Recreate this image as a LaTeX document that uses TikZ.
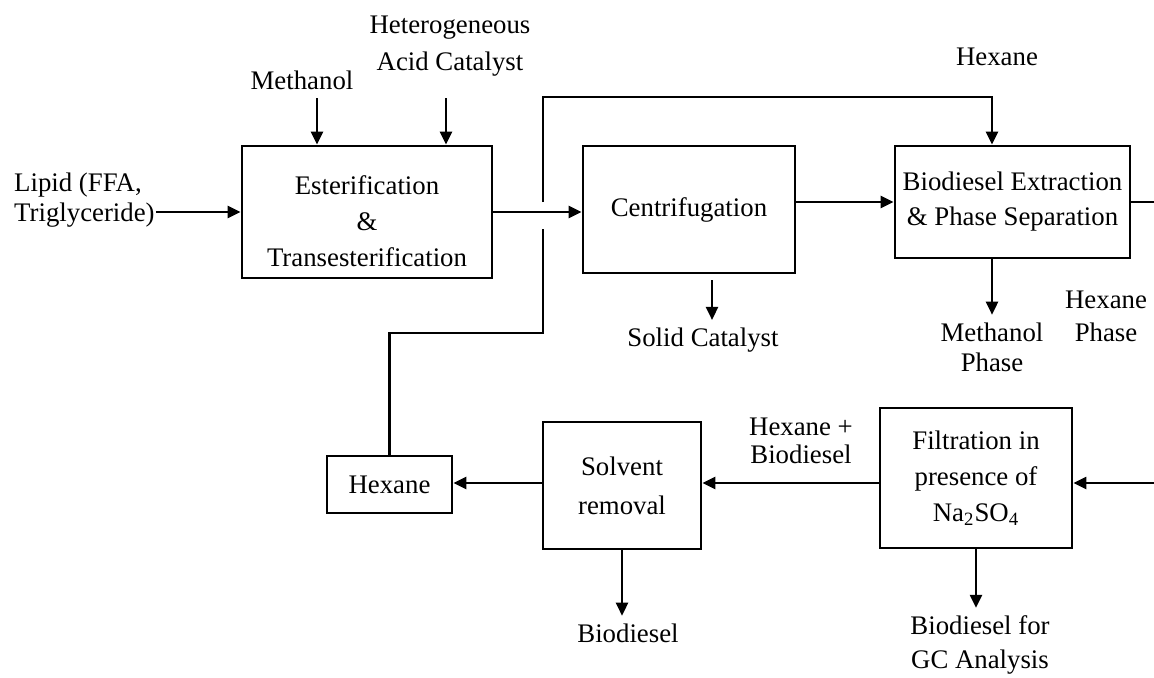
\documentclass[tikz,border=0pt]{standalone}
\usepackage{fontspec}
\setmainfont{Liberation Serif}
\usepackage{tikz}
\usetikzlibrary{arrows.meta}

\begin{document}
\begin{tikzpicture}[x=0.5pt, y=-0.5pt, line width=1.2pt,
    box/.style={draw, line width=1.4pt, align=center, inner sep=2pt, font=\fontsize{13.4}{18}\selectfont},
    lbl/.style={align=center, font=\fontsize{13.4}{15}\selectfont},
    flow/.style={-{Triangle[length=6.5pt,width=6pt]}}]
      \useasboundingbox (0,0) rectangle (1154,677);

      %process boxes
      \node[box, minimum width=125pt, minimum height=66pt, text height=55pt] (est) at (367,212) {Esterification\\\&\\Transesterification};
      \node[box, minimum width=106pt, minimum height=63.5pt] (cen) at (689,209.5) {Centrifugation};
      \node[box, minimum width=117.5pt, minimum height=56pt, font=\fontsize{13.4}{17.5}\selectfont] (bex) at (1012.5,202) {Biodiesel Extraction\\\& Phase Separation};
      \node[box, minimum width=96pt, minimum height=70pt] (fil) at (976,478) {Filtration in\\presence of\\Na\textsubscript{2}SO\textsubscript{4}};
      \node[box, minimum width=79pt, minimum height=63.5pt, font=\fontsize{13.4}{19.5}\selectfont] (sol) at (622,485.5) {Solvent\\removal};
      \node[box, minimum width=62.5pt, minimum height=28.5pt] (hex) at (389.5,484.5) {Hexane};

      %streams
      \node[lbl, align=left, anchor=west, inner sep=0pt] (lip) at (13,200) {Lipid (FFA,\\Triglyceride)};
      \node[lbl] (meth) at (302,80) {Methanol};
      \node[lbl, font=\fontsize{13.4}{18.5}\selectfont] (cat) at (450,46) {Heterogeneous\\Acid Catalyst};
      \node[lbl] (hxin) at (997,57) {Hexane};
      \node[lbl] (scat) at (703,340) {Solid Catalyst};
      \node[lbl] (mph) at (992,347) {Methanol\\Phase};
      \node[lbl, font=\fontsize{13.4}{16.5}\selectfont] (hph) at (1106,316) {Hexane\\Phase};
      \node[lbl, font=\fontsize{13.4}{14}\selectfont] (hb) at (801,441) {Hexane +\\Biodiesel};
      \node[lbl] (bio) at (628,633) {Biodiesel};
      \node[lbl, font=\fontsize{13.4}{17}\selectfont] (gc) at (980,645) {Biodiesel for\\GC Analysis};

      \coordinate (m0) at (317,98);
      \coordinate (c0) at (446,98);
      \coordinate (s0) at (712,280);
      \coordinate (r1) at (543,333);
      \coordinate (r2) at (992,97);
      \coordinate (e1) at (1154,204);
      \coordinate (e2) at (1154,483);

      \draw[flow] (lip.east |- est.west) -- (est.west);
      \draw[flow] (m0) -- (m0 |- est.north);
      \draw[flow] (c0) -- (c0 |- est.north);
      \draw[flow] (est.east) -- (est.east -| cen.west);
      \draw[flow] (cen.east |- bex.west) -- (bex.west);
      \draw[flow] (s0) -- (s0 |- scat.north);
      \draw[flow] (bex.south -| mph.north) -- (mph.north);
      \draw (bex.east) -- (bex.east -| e1);

%      hexane recycle, broken where it crosses the feed line
      \draw (hex.north) |- (r1) -- (543,229);
      \draw[flow] (543,202) |- (r2) -- (r2 |- bex.north);

      \draw[flow] (e2) -- (e2 -| fil.east);
      \draw[flow] (e2 -| fil.west) -- (e2 -| sol.east);
      \draw[flow] (e2 -| sol.west) -- (e2 -| hex.east);
      \draw[flow] (sol.south) -- (sol.south |- bio.north);
      \draw[flow] (fil.south) -- (fil.south |- gc.north);
  \end{tikzpicture}
\end{document}
